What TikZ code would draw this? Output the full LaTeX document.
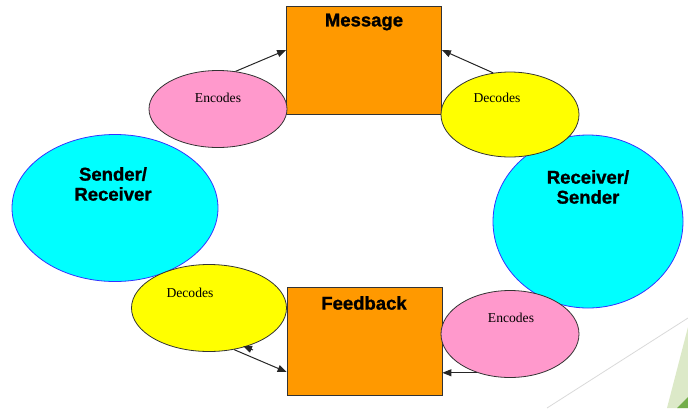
\documentclass[tikz,border=0pt]{standalone}
\usepackage{fontspec}
\setmainfont{Liberation Serif}
\newfontfamily\headfont[BoldFeatures={FakeBold=1.2}]{Liberation Sans}
\usetikzlibrary{shapes.geometric,arrows.meta,calc}
\definecolor{boxorange}{HTML}{FF9900}
\definecolor{encpink}{HTML}{FF99CC}
\definecolor{decyellow}{HTML}{FFFF00}
\definecolor{partcyan}{HTML}{00FFFF}
\definecolor{partblue}{HTML}{3333FF}
\definecolor{edgegray}{HTML}{333333}
\definecolor{lightgreen}{HTML}{DCE9C8}
\definecolor{darkgreen}{HTML}{73AE4A}
\tikzset{
  msgbox/.style={draw=edgegray, line width=0.8pt, fill=boxorange, minimum width=155pt, minimum height=108pt, inner sep=0pt},
  oval/.style={ellipse, draw=edgegray, line width=0.8pt, inner sep=0pt},
  party/.style={ellipse, draw=partblue, line width=0.8pt, fill=partcyan, inner sep=0pt},
  headtxt/.style={font=\headfont\bfseries\fontsize{18.5}{20}\selectfont, align=center, inner sep=0pt},
  smalltxt/.style={font=\fontsize{13.6}{15}\selectfont, inner sep=0pt},
  arr/.style={-{Triangle[length=9pt,width=7pt]}, line width=1pt, draw=black!85}
}
\begin{document}
\begin{tikzpicture}[x=1pt,y=-1pt]
\useasboundingbox (0,0) rectangle (688,408);
% slide decoration
\draw[black!15, line width=0.8pt] (547,408) -- (688,318);
\fill[lightgreen] (667,408) -- (688,327) -- (688,408) -- cycle;
\fill[darkgreen] (677,408) -- (688,397) -- (688,408) -- cycle;
% participants
\node[party, minimum width=206pt, minimum height=147pt] (sr) at (115,208) {};
\node[party, minimum width=190pt, minimum height=173pt] (rs) at (588,221.5) {};
% boxes
\node[msgbox] (msg) at (364,60) {};
\node[msgbox] (fb) at (364.5,341) {};
% ellipses
\node[oval, fill=encpink, minimum width=138pt, minimum height=77pt] (enc1) at (218,109) {};
\node[oval, fill=decyellow, minimum width=138pt, minimum height=85pt] (dec1) at (510,114.5) {};
\node[oval, fill=decyellow, minimum width=155pt, minimum height=87pt] (dec2) at (209,308) {};
\node[oval, fill=encpink, minimum width=138pt, minimum height=87pt] (enc2) at (510,334) {};
% texts
\node[headtxt] (tmsg) at (364,22) {Message};
\node[headtxt] (tfb) at (364,303) {Feedback};
\node[headtxt] (tsr) at (113,184) {Sender/\\Receiver};
\node[headtxt] (trs) at (588,187) {Receiver/\\Sender};
\node[smalltxt] (tenc1) at (218,98) {Encodes};
\node[smalltxt] (tdec1) at (497,98) {Decodes};
\node[smalltxt] (tdec2) at (190,293) {Decodes};
\node[smalltxt] (tenc2) at (511,318) {Encodes};
% connectors
\draw[arr] (enc1.65) -- ([yshift=10pt]msg.west);
\draw[arr] (dec1.112) -- ([yshift=10pt]msg.east);
\draw[arr] (dec2.-59) -- ([yshift=-31pt]fb.west);
\draw[arr] (enc2.230) -- (enc2.230 -| fb.east);
\coordinate (hs) at (253,350);
\coordinate (ht) at (243,346);
\draw[arr] (hs) -- (ht);
\end{tikzpicture}
\end{document}
